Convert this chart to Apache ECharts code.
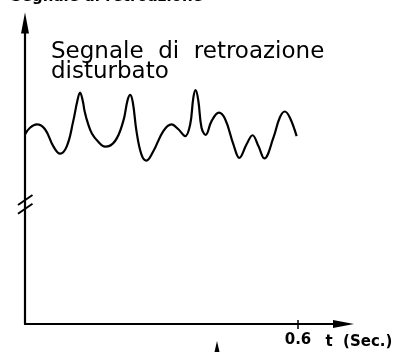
<!DOCTYPE html>
<html>
<head>
<meta charset="utf-8">
<script src="https://cdn.jsdelivr.net/npm/echarts@6/dist/echarts.min.js"></script>
<style>
  html, body { margin: 0; padding: 0; background: #fff; }
  #chart { width: 407px; height: 352px; }
</style>
</head>
<body>
<div id="chart"></div>
<script>
// Noisy feedback signal, time in seconds vs. relative amplitude
const timeSec = [
  0.000, 0.011, 0.026, 0.044, 0.062, 0.077, 0.092, 0.106, 0.115, 0.121,
  0.127, 0.131, 0.139, 0.147, 0.160, 0.176, 0.198, 0.216, 0.225, 0.231,
  0.237, 0.245, 0.256, 0.267, 0.282, 0.304, 0.322, 0.337, 0.352, 0.363,
  0.370, 0.375, 0.381, 0.388, 0.397, 0.410, 0.426, 0.440, 0.458, 0.471,
  0.487, 0.500, 0.513, 0.526, 0.546, 0.560, 0.571, 0.582, 0.597
];
const amplitude = [
  63.0, 65.2, 66.3, 64.7, 59.1, 56.6, 59.1, 67.4, 74.1, 76.9,
  74.1, 70.7, 66.3, 63.3, 60.7, 58.9, 60.8, 67.4, 74.1, 76.1,
  73.6, 64.1, 56.3, 54.3, 57.4, 64.1, 66.3, 64.7, 62.4, 66.3,
  75.2, 77.7, 74.1, 65.2, 62.8, 67.4, 70.2, 68.0, 59.7, 55.2,
  59.7, 62.7, 59.1, 55.0, 61.9, 68.6, 70.6, 68.6, 62.4
];
const xTickValues = [0.6];
const xTickLabels = ['0.6'];

const points = timeSec.map((t, i) => [t, amplitude[i]]);

const chart = echarts.init(document.getElementById('chart'), null, { renderer: 'canvas' });

const axisLineStyle = { color: '#000', width: 2.2 };

chart.setOption({
  animation: false,
  backgroundColor: '#fff',
  title: [
    {
      text: 'Segnale di retroazione',
      left: 6,
      top: -15,
      textStyle: { fontFamily: 'DejaVu Sans', fontSize: 15, fontWeight: 'bold', color: '#000' }
    },
    {
      text: 'Segnale  di  retroazione\ndisturbato',
      left: 46,
      top: 37,
      textStyle: { fontFamily: 'DejaVu Sans', fontSize: 23, fontWeight: 'normal', color: '#000', lineHeight: 20 }
    }
  ],
  grid: { left: 25, right: 63.5, top: 23, bottom: 28, containLabel: false },
  xAxis: [
    {
      type: 'value',
      min: 0,
      max: 0.7,
      position: 'bottom',
      name: 't  (Sec.)',
      nameLocation: 'end',
      nameGap: -18,
      nameTextStyle: {
        fontFamily: 'DejaVu Sans', fontSize: 15, fontWeight: 'bold', color: '#000',
        align: 'left', verticalAlign: 'top', padding: [11, 0, 0, 0]
      },
      axisLine: { show: true, onZero: false, symbol: ['none', 'triangle'], symbolSize: [8, 21], lineStyle: axisLineStyle },
      axisTick: { show: true, customValues: xTickValues, length: 5, lineStyle: { color: '#000', width: 1.5 } },
      axisLabel: {
        show: true,
        customValues: xTickValues,
        formatter: (v) => xTickLabels[xTickValues.indexOf(v)] || '',
        margin: 9,
        fontFamily: 'DejaVu Sans', fontSize: 15, fontWeight: 'bold', color: '#000'
      },
      splitLine: { show: false }
    },
    {
      type: 'value',
      min: 0,
      max: 0.7,
      position: 'bottom',
      axisLine: { show: false },
      axisTick: { show: true, inside: true, customValues: xTickValues, length: 4, lineStyle: { color: '#000', width: 1.5 } },
      axisLabel: { show: false },
      splitLine: { show: false }
    }
  ],
  yAxis: {
    type: 'value',
    min: 0,
    max: 100,
    axisLine: { show: true, onZero: false, symbol: ['none', 'triangle'], symbolSize: [8, 21], lineStyle: axisLineStyle },
    axisTick: { show: false },
    axisLabel: { show: false },
    splitLine: { show: false }
  },
  series: [
    {
      type: 'line',
      xAxisIndex: 0,
      data: points,
      smooth: 0.4,
      symbol: 'none',
      lineStyle: { color: '#000', width: 2.2 },
      clip: false
    }
  ]
});

// Axis break marks on the vertical axis and a partial arrow at the lower edge
const breakCentres = [41.2, 38.3];
const graphics = breakCentres.map((v) => {
  const p = chart.convertToPixel({ gridIndex: 0 }, [0, v]);
  return {
    type: 'line',
    shape: { x1: p[0] - 7, y1: p[1] + 5, x2: p[0] + 7.5, y2: p[1] - 5 },
    style: { stroke: '#000', lineWidth: 2 },
    z: 20
  };
});
graphics.push({
  type: 'polygon',
  shape: { points: [[217, 341], [214.5, 352], [219.5, 352]] },
  style: { fill: '#000' },
  z: 20
});
chart.setOption({ graphic: graphics });
</script>
</body>
</html>
